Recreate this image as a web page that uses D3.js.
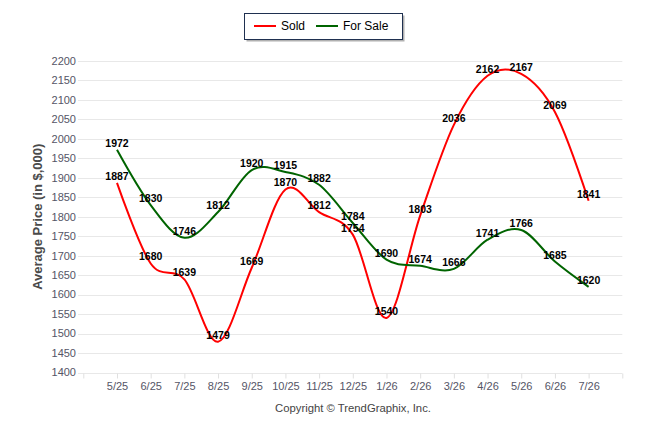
<!DOCTYPE html>
<html>
<head>
<meta charset="utf-8">
<script src="https://cdn.jsdelivr.net/npm/d3@7"></script>
<style>
  body { margin: 0; background: #fff; }
  svg { font-family: "Liberation Sans", Arial, sans-serif; }
</style>
</head>
<body>
<div id="chart"></div>
<script>
var months = ["5/25", "6/25", "7/25", "8/25", "9/25", "10/25", "11/25", "12/25",
              "1/26", "2/26", "3/26", "4/26", "5/26", "6/26", "7/26"]
var soldValues = [1887, 1680, 1639, 1479, 1669, 1870, 1812, 1754, 1540, 1803, 2036, 2162, 2167, 2069, 1841]
var forSaleValues = [1972, 1830, 1746, 1812, 1920, 1915, 1882, 1784, 1690, 1674, 1666, 1741, 1766, 1685, 1620]
var yTicks = [1400, 1450, 1500, 1550, 1600, 1650, 1700, 1750, 1800, 1850, 1900, 1950, 2000, 2050, 2100, 2150, 2200]

var W = 646, H = 434
var plot = { left: 83.3, right: 622.3, top: 61, bottom: 372.5 }

var svg = d3.select("#chart").append("svg")
    .attr("width", W)
    .attr("height", H)

// one empty slot on each side of the months
var x = d3.scaleLinear()
    .domain([-1, months.length])
    .range([plot.left, plot.right])

var y = d3.scaleLinear()
    .domain([1400, 2200])
    .range([plot.bottom, plot.top])

// grid
svg.append("g")
    .selectAll("line")
    .data(yTicks)
    .enter().append("line")
        .attr("x1", 78)
        .attr("x2", plot.right)
        .attr("y1", d => Math.round(y(d)) + 0.5)
        .attr("y2", d => Math.round(y(d)) + 0.5)
        .attr("stroke", "#e8e8e8")
        .attr("stroke-width", 1)

// y tick labels
svg.append("g")
    .selectAll("text")
    .data(yTicks)
    .enter().append("text")
        .attr("x", 76)
        .attr("y", d => y(d))
        .attr("dy", "0.35em")
        .attr("text-anchor", "end")
        .attr("fill", "#555566")
        .style("font-family", "'Liberation Sans Narrow', 'Arial Narrow', Arial, sans-serif")
        .style("font-size", "11px")
        .text(d => d)

// x axis ticks and labels
var tickIdx = d3.range(-1, months.length + 1)
var xAxis = d3.axisBottom(x)
    .tickValues(tickIdx)
    .tickSize(5)
    .tickFormat(i => months[i] || "")

var xg = svg.append("g")
    .attr("transform", "translate(0," + (Math.round(plot.bottom) + 0.5) + ")")
    .call(xAxis)
xg.select(".domain").remove()
xg.selectAll(".tick line").attr("stroke", "#e0e0e0")
xg.selectAll(".tick text")
    .attr("fill", "#555566")
    .attr("y", 9)
    .style("font-family", "'Liberation Sans Narrow', 'Arial Narrow', Arial, sans-serif")
    .style("font-size", "11px")

// axis title
svg.append("text")
    .attr("transform", "translate(42," + ((plot.top + plot.bottom) / 2) + ") rotate(-90)")
    .attr("text-anchor", "middle")
    .attr("fill", "#4a4a4a")
    .style("font-size", "13px")
    .style("font-weight", "bold")
    .text("Average Price (in $,000)")

// lines
var line = d3.line()
    .x((d, i) => x(i))
    .y(d => y(d))
    .curve(d3.curveCardinal.tension(0))

var series = [
    { name: "Sold", values: soldValues, color: "#ff0000" },
    { name: "For Sale", values: forSaleValues, color: "#006400" }
]

series.forEach(function(s){
    svg.append("path")
        .datum(s.values)
        .attr("fill", "none")
        .attr("stroke", s.color)
        .attr("stroke-width", 2)
        .attr("d", line)
})

// value labels
series.forEach(function(s){
    svg.append("g")
        .selectAll("text")
        .data(s.values)
        .enter().append("text")
            .attr("x", (d, i) => x(i))
            .attr("y", d => y(d) - 3)
            .attr("text-anchor", "middle")
            .attr("fill", "#000")
            .style("font-size", "10.5px")
            .style("font-weight", "bold")
            .text(d => d)
})

// legend
var legend = svg.append("g")
legend.append("rect")
    .attr("x", 246.5).attr("y", 15.5)
    .attr("width", 158).attr("height", 26)
    .attr("fill", "#b0b0b0")
legend.append("rect")
    .attr("x", 244.5).attr("y", 13.5)
    .attr("width", 158).attr("height", 26)
    .attr("fill", "#fff")
    .attr("stroke", "#1f3050")
    .attr("stroke-width", 1)

var legendItems = [
    { name: "Sold", color: "#ff0000", x: 254 },
    { name: "For Sale", color: "#006400", x: 316 }
]
legendItems.forEach(function(d){
    legend.append("line")
        .attr("x1", d.x).attr("x2", d.x + 22)
        .attr("y1", 26).attr("y2", 26)
        .attr("stroke", d.color)
        .attr("stroke-width", 2)
    legend.append("text")
        .attr("x", d.x + 27)
        .attr("y", 26)
        .attr("dy", "0.35em")
        .attr("fill", "#000")
        .style("font-size", "12px")
        .text(d.name)
})

// footer
svg.append("text")
    .attr("x", 353)
    .attr("y", 412)
    .attr("text-anchor", "middle")
    .attr("fill", "#444")
    .style("font-size", "11.3px")
    .text("Copyright \u00a9 TrendGraphix, Inc.")
</script>
</body>
</html>
